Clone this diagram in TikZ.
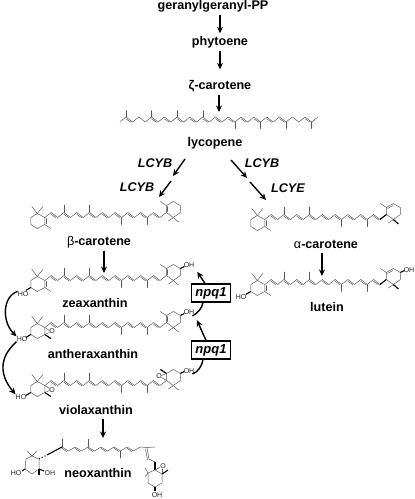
\documentclass[tikz,border=0pt]{standalone}
\usepackage{fontspec}
\setmainfont{Liberation Sans}
\usetikzlibrary{arrows.meta}

\tikzset{
  mol/.style={line width=0.5pt, black!65, line cap=round},
  wedge/.style={line width=1.1pt, black},
  rxn/.style={line width=1.4pt, -{Stealth[length=6.5pt,width=6pt]}},
  lab/.style={font=\fontsize{12.6}{14}\selectfont\bfseries, inner sep=0pt, minimum height=17pt},
  enz/.style={font=\fontsize{12.6}{14}\selectfont\bfseries\itshape, inner sep=0pt},
  gene/.style={draw, line width=1.3pt, font=\fontsize{13}{14}\selectfont\bfseries\itshape, minimum width=39pt, minimum height=18pt, inner sep=0pt},
  atom/.style={font=\fontsize{7}{8}\selectfont, inner sep=0pt, black!85},
}

%% chain of the carotenoids: origin is the first methyl carbon
\newcommand{\carochain}[2]{
  \begin{scope}[shift={(#1,#2)}]
    \foreach \i in {-3,-1,...,13}
      \draw[mol] ({\i*6.4},2.5) -- ({(\i+1)*6.4},-2.5) -- ({(\i+2)*6.4},2.5);
    \foreach \a in {-2,0,...,14}
      \draw[mol] ({(\a+.12)*6.4-.8},-.7) -- ({(\a+.88)*6.4-.8},2.7);
    \draw[mol] (0,-2.5) -- (0,-10);
    \draw[mol] (25.6,-2.5) -- (25.6,-10);
    \draw[mol] (57.6,2.5) -- (57.6,9.5);
    \draw[mol] (83.2,2.5) -- (83.2,9.5);
  \end{scope}
}
%% six ring, left end (origin at C6)
\newcommand{\ringleft}[2]{
  \begin{scope}[shift={(#1,#2)}]
    \draw[mol] (0,0) -- (-7.5,-4) -- (-14,0) -- (-14,7) -- (-7.5,11) -- (0,7) -- cycle;
    \draw[mol] (-7.5,-4) -- (-13,-11);
    \draw[mol] (-7.5,-4) -- (-2,-11);
    \draw[mol] (0,7) -- (6,11);
  \end{scope}
}
%% six ring, right end (origin at C6')
\newcommand{\ringright}[2]{
  \begin{scope}[shift={(#1,#2)}]
    \draw[mol] (-6.4,5) -- (0,0);
    \draw[mol] (0,0) -- (0,-7) -- (7,-11) -- (14,-7) -- (14,0) -- (7,5) -- cycle;
    \draw[mol] (7,5) -- (2,8.5);
    \draw[mol] (7,5) -- (12,9.5);
    \draw[mol] (0,-7) -- (-6,-11);
  \end{scope}
}
\newcommand{\enedouble}[2]{\draw[mol] (#1+1.2,#2+1) -- (#1+1.2,#2+6);}
\newcommand{\enedoubleR}[2]{\draw[mol] (#1+1.2,#2-1) -- (#1+1.2,#2-6);}
\newcommand{\bondHO}[2]{\draw[wedge] (#1-14,#2+7) -- (#1-19,#2+10);}
\newcommand{\bondOH}[2]{\draw[wedge] (#1+14,#2-7) -- (#1+18,#2-9);}

\begin{document}
\begin{tikzpicture}[x=1pt, y=-1pt]

  %% ════ labels ════
  \node[lab] (ggpp) at (213,6) {geranylgeranyl-PP};
  \node[lab] (phytoene) at (220,42) {phytoene};
  \node[lab] (zeta) at (220,86) {ζ-carotene};
  \node[lab] (lycopene) at (215,143) {lycopene};
  \node[lab] (bcar) at (99,242) {{\mdseries β}-carotene};
  \node[lab] (acar) at (326,244) {{\mdseries α}-carotene};
  \node[lab] (lutein) at (327,307) {lutein};
  \node[lab] (zea) at (95,303) {zeaxanthin};
  \node[lab] (anth) at (93,354) {antheraxanthin};
  \node[lab] (viola) at (96,410) {violaxanthin};
  \node[lab] (neo) at (98,473) {neoxanthin};

  \node[enz] (lcyba) at (155,163) {LCYB};
  \node[enz] (lcybb) at (137,187) {LCYB};
  \node[enz] (lcybc) at (262,163) {LCYB};
  \node[enz] (lcye) at (288,188) {LCYE};

  \node[gene] (npqa) at (211,293) {npq1};
  \node[gene] (npqb) at (211,350) {npq1};

  %% ════ lycopene ════
  \begin{scope}[shift={(126,119.5)}]
    \draw[mol] (-6,2) -- (0,-2.5);
    \foreach \i in {0,2,...,28}
      \draw[mol] ({\i*6.4},-2.5) -- ({(\i+1)*6.4},2.5) -- ({(\i+2)*6.4},-2.5);
    \foreach \a in {0,4,6,...,24,28}
      \draw[mol] ({(\a+.12)*6.4-.8},-.7) -- ({(\a+.88)*6.4-.8},2.7);
    \foreach \m in {0,4,8,12}
      \draw[mol] ({\m*6.4},-2.5) -- ({\m*6.4},-9);
    \foreach \m in {17,21,25,29}
      \draw[mol] ({\m*6.4},2.5) -- ({\m*6.4},9);
  \end{scope}

  %% ════ beta-carotene ════
  \carochain{64}{215}
  \ringleft{44.8}{217.5}
  \enedouble{44.8}{217.5}
  \ringright{166.4}{212.5}
  \enedoubleR{166.4}{212.5}

  %% ════ alpha-carotene ════
  \carochain{284}{217}
  \ringleft{264.8}{219.5}
  \enedouble{264.8}{219.5}
  \ringright{386.4}{214.5}
  \draw[mol] (387.5,208.5) -- (393,205.5);
  \draw[wedge] (380,219.5) -- (386.4,214.5);
  \draw[wedge] (393.4,219.5) -- (398.4,224);

  %% ════ lutein ════
  \carochain{284}{282}
  \ringleft{264.8}{284.5}
  \enedouble{264.8}{284.5}
  \ringright{386.4}{279.5}
  \draw[mol] (387.5,273.5) -- (393,270.5);
  \draw[wedge] (380,284.5) -- (386.4,279.5);
  \draw[wedge] (393.4,284.5) -- (398.4,289);
  \bondHO{264.8}{284.5}
  \bondOH{386.4}{279.5}
  \node[atom] (luteinHO) at (241,297) {HO};
  \node[atom] (luteinOH) at (409,270) {OH};

  %% ════ zeaxanthin ════
  \carochain{64}{278}
  \ringleft{44.8}{280.5}
  \enedouble{44.8}{280.5}
  \ringright{166.4}{275.5}
  \enedoubleR{166.4}{275.5}
  \bondHO{44.8}{280.5}
  \bondOH{166.4}{275.5}
  \node[atom] (zeaHO) at (23,294) {HO};
  \node[atom] (zeaOH) at (189,265) {OH};

  %% ════ antheraxanthin ════
  \carochain{64}{325}
  \ringleft{44.8}{327.5}
  \draw[wedge] (44.8,334.5) -- (50.8,338.5);
  \draw[mol] (44.8,327.5) -- (49.5,330.5);
  \draw[mol] (44.8,334.5) -- (49.5,332.5);
  \node[atom] (anthO) at (52,331.5) {O};
  \ringright{166.4}{322.5}
  \enedoubleR{166.4}{322.5}
  \bondHO{44.8}{327.5}
  \bondOH{166.4}{322.5}
  \node[atom] (anthHO) at (22,339) {HO};
  \node[atom] (anthOH) at (189,312) {OH};

  %% ════ violaxanthin ════
  \carochain{64}{383}
  \ringleft{44.8}{385.5}
  \draw[wedge] (44.8,392.5) -- (50.8,396.5);
  \draw[mol] (44.8,385.5) -- (49.5,388.5);
  \draw[mol] (44.8,392.5) -- (49.5,390.5);
  \node[atom] (violaO) at (52,390) {O};
  \ringright{166.4}{380.5}
  \draw[wedge] (166.4,373.5) -- (160.4,369.5);
  \draw[mol] (166.4,380.5) -- (161.5,377.5);
  \draw[mol] (166.4,373.5) -- (161.5,375.5);
  \node[atom] (violaOb) at (159,376.5) {O};
  \bondHO{44.8}{385.5}
  \bondOH{166.4}{380.5}
  \node[atom] (violaHO) at (21,397) {HO};
  \node[atom] (violaOH) at (189,371) {OH};

  %% ════ neoxanthin ════
  \foreach \i in {0,2,...,10}
    \draw[mol] ({62+\i*6.5},447) -- ({62+(\i+1)*6.5},451) -- ({62+(\i+2)*6.5},447);
  \foreach \a in {0,2,...,10}
    \draw[mol] ({62+(\a+.12)*6.5-.7},448.3) -- ({62+(\a+.88)*6.5-.7},451.7);
  \draw[mol] (140,447) -- (147,447.5) -- (155,447);
  \draw[mol] (62,447) -- (62,439);
  \draw[mol] (88,447) -- (88,439);
  \draw[mol] (120.5,451) -- (120.5,458);
  \draw[mol] (147,447.5) -- (149,459) -- (155,462);
  \draw[mol] (145.5,449) -- (147.5,460);
  \draw[wedge] (155,462) -- (155,470);
  \draw[wedge, dotted] (39,459) -- (47,455);
  \draw[wedge] (47,455) -- (62,447);
  \draw[mol] (39,459) -- (32,456) -- (26,459) -- (25,469) -- (32,474) -- (39,469) -- cycle;
  \draw[mol] (32,456) -- (27,451);
  \draw[mol] (32,456) -- (37,451);
  \draw[wedge] (39,469) -- (39,475);
  \draw[wedge] (25,469) -- (22,471);
  \draw[wedge] (39,469) -- (44,471);
  \node[atom] (neoHO) at (16,473) {HO};
  \node[atom] (neoOHa) at (50,473) {OH};
  \draw[mol] (155,470) -- (162,474) -- (162,483) -- (155,487) -- (148,483) -- (148,473) -- cycle;
  \draw[mol] (155,470) -- (160,467);
  \draw[mol] (162,474) -- (162,469);
  \node[atom] (neoO) at (163,466) {O};
  \draw[wedge] (162,474) -- (168,470);
  \draw[mol] (148,473) -- (145,468);
  \draw[mol] (148,473) -- (145,477);
  \draw[wedge] (155,487) -- (155,491);
  \node[atom] (neoOHb) at (157,495) {OH};

  %% ════ free ends of the arrows ════
  \coordinate (lycotop) at (219,112);
  \coordinate (lcybaS) at (185,159);
  \coordinate (lcybaE) at (173,176);
  \coordinate (lcybbS) at (171,181);
  \coordinate (lcybbE) at (159,197);
  \coordinate (lcybcS) at (231,160);
  \coordinate (lcybcE) at (247,178);
  \coordinate (lcyeS) at (250,182);
  \coordinate (lcyeE) at (266,200);
  \coordinate (zeatop) at (104,273);
  \coordinate (lutop) at (322,276);
  \coordinate (neotop) at (103,438);

  %% ════ arrows ════
  \draw[rxn] (ggpp.south -| phytoene.north) -- (phytoene.north);
  \draw[rxn, shorten >=8pt] (phytoene.south) -- (zeta.north);
  \draw[rxn] (zeta.south -| lycotop) -- (lycotop);
  \draw[rxn] (lcybaS) -- (lcybaE);
  \draw[rxn] (lcybbS) -- (lcybbE);
  \draw[rxn] (lcybcS) -- (lcybcE);
  \draw[rxn] (lcyeS) -- (lcyeE);
  \draw[rxn] (bcar.south -| zeatop) -- (zeatop);
  \draw[rxn] (acar.south -| lutop) -- (lutop);
  \draw[rxn] (viola.south -| neotop) -- (neotop);

  \draw[rxn] (zeaHO.north west) .. controls (2,297) and (2,322) .. (anthHO.north west);
  \draw[rxn] (anthHO.south west) .. controls (-2,358) and (0,376) .. (violaHO.north west);

  \draw[rxn, shorten >=5pt] ([xshift=-6pt]npqa.north) -- (zeaOH.south east);
  \draw[rxn, shorten >=6pt] ([xshift=-5pt]npqb.north) -- (anthOH.south east);
  \draw[line width=1.4pt] (anthOH.east) ++(-2,4) .. controls (198,313) and (202,308) .. ([xshift=-8pt]npqa.south);
  \draw[line width=1.4pt] (violaOH.east) ++(-2,3) .. controls (198,372) and (202,366) .. ([xshift=-8pt]npqb.south);

  %% page
  \pgfresetboundingbox
  \path[use as bounding box] (0,0) rectangle (415,499);
\end{tikzpicture}
\end{document}
